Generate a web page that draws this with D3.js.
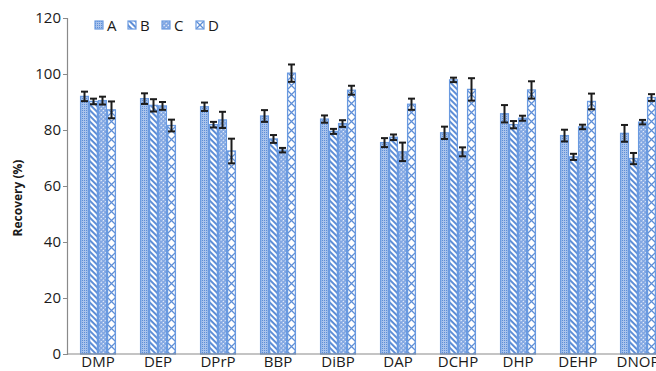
<!DOCTYPE html>
<html>
<head>
<meta charset="utf-8">
<script src="https://cdn.jsdelivr.net/npm/d3@7"></script>
<style>
  html, body { margin: 0; padding: 0; background: #fff; overflow: hidden; }
  svg { display: block; font-family: "Open Sans", sans-serif; }
</style>
</head>
<body>
<svg id="chart" width="656" height="371"></svg>
<script>
// data
const compounds = ["DMP", "DEP", "DPrP", "BBP", "DiBP", "DAP", "DCHP", "DHP", "DEHP", "DNOP"];
const seriesNames = ["A", "B", "C", "D"];
const meanA = [92.0, 91.2, 88.3, 85.0, 83.9, 75.5, 79.0, 85.8, 78.0, 78.8];
const sdA   = [1.7, 1.9, 1.5, 2.1, 1.3, 1.6, 2.2, 3.1, 2.1, 3.0];
const meanB = [90.2, 88.8, 81.9, 76.8, 79.5, 77.4, 97.9, 81.9, 70.4, 69.8];
const sdB   = [1.0, 2.2, 1.0, 1.4, 0.9, 1.0, 0.8, 1.3, 1.1, 2.0];
const meanC = [90.5, 88.6, 83.6, 72.8, 82.3, 72.2, 72.2, 84.2, 81.1, 82.8];
const sdC   = [1.4, 1.4, 2.9, 0.8, 1.2, 3.3, 1.6, 0.9, 0.8, 0.8];
const meanD = [87.2, 81.6, 72.5, 100.3, 94.2, 89.2, 94.5, 94.3, 90.2, 91.6];
const sdD   = [3.0, 2.1, 4.4, 3.1, 1.6, 2.0, 4.0, 3.1, 2.8, 1.2];
const yTicks = [0, 20, 40, 60, 80, 100, 120];

const means = [meanA, meanB, meanC, meanD];
const sds = [sdA, sdB, sdC, sdD];

const blue = "#5d8dd6";
const light = "#a9c3ec";
const edge = "#6a9ae0";

const svg = d3.select("#chart");

const x0 = d3.scaleBand().domain(compounds).range([68, 668]).paddingInner(0.4).paddingOuter(0.2);
const x1 = d3.scaleBand().domain(seriesNames).range([0, x0.bandwidth()]);
const y = d3.scaleLinear().domain([0, 120]).range([354, 18]);

// patterns
const defs = svg.append("defs");

// A: fine light grid
let p = defs.append("pattern").attr("id", "pA").attr("patternUnits", "userSpaceOnUse")
  .attr("width", 2).attr("height", 2);
p.append("rect").attr("width", 2).attr("height", 2).attr("fill", light);
p.append("rect").attr("width", 1).attr("height", 1).attr("fill", blue);

// B: diagonal stripes
p = defs.append("pattern").attr("id", "pB").attr("patternUnits", "userSpaceOnUse")
  .attr("width", 4).attr("height", 4).attr("patternTransform", "rotate(-45)");
p.append("rect").attr("width", 4).attr("height", 4).attr("fill", "#fff");
p.append("rect").attr("width", 2).attr("height", 4).attr("fill", blue);

// C: small diamonds
p = defs.append("pattern").attr("id", "pC").attr("patternUnits", "userSpaceOnUse")
  .attr("width", 3).attr("height", 3).attr("patternTransform", "rotate(45)");
p.append("rect").attr("width", 3).attr("height", 3).attr("fill", "#7fa5e2");
p.append("rect").attr("x", 1).attr("y", 1).attr("width", 1.3).attr("height", 1.3).attr("fill", "#fff");

// D: big crosses, one per bar width (pattern lives in each group's own space)
const bw = x1.bandwidth();
const dOff = x1("D");
p = defs.append("pattern").attr("id", "pD").attr("patternUnits", "userSpaceOnUse")
  .attr("x", 0).attr("y", 0).attr("width", x0.step()).attr("height", bw);
p.append("rect").attr("width", x0.step()).attr("height", bw).attr("fill", "#fff");
p.append("path")
  .attr("d", `M${dOff},0L${dOff + bw},${bw}M${dOff + bw},0L${dOff},${bw}`)
  .attr("stroke", blue).attr("stroke-width", 1.3).attr("fill", "none");

// legend version of D
let lp = defs.append("pattern").attr("id", "pDL").attr("patternUnits", "objectBoundingBox")
  .attr("width", 1).attr("height", 1);
lp.append("rect").attr("width", 8).attr("height", 8).attr("fill", "#fff");
lp.append("path").attr("d", "M0,0L8,8M8,0L0,8").attr("stroke", blue).attr("stroke-width", 1.3);

const fills = { A: "url(#pA)", B: "url(#pB)", C: "url(#pC)", D: "url(#pD)" };

// bars
const rows = compounds.map((c, i) => ({
  name: c,
  vals: seriesNames.map((s, j) => ({ key: s, v: means[j][i], e: sds[j][i] }))
}));

const groups = svg.append("g").selectAll("g")
  .data(rows)
  .join("g")
  .attr("transform", d => `translate(${x0(d.name)},0)`);

groups.selectAll("rect")
  .data(d => d.vals)
  .join("rect")
  .attr("x", d => x1(d.key) + 0.6)
  .attr("y", d => y(d.v))
  .attr("width", bw - 1.2)
  .attr("height", d => y(0) - y(d.v))
  .attr("fill", d => fills[d.key])
  .attr("stroke", edge)
  .attr("stroke-width", 1.3);

// error bars
const eb = groups.selectAll("g.err")
  .data(d => d.vals)
  .join("g")
  .attr("class", "err")
  .attr("stroke", "#1c1c1c")
  .attr("stroke-width", 2)
  .attr("transform", d => `translate(${x1(d.key) + bw / 2},0)`);
eb.append("line").attr("y1", d => y(d.v - d.e)).attr("y2", d => y(d.v + d.e));
eb.append("line").attr("x1", -3.5).attr("x2", 3.5).attr("y1", d => y(d.v + d.e)).attr("y2", d => y(d.v + d.e));
eb.append("line").attr("x1", -3.5).attr("x2", 3.5).attr("y1", d => y(d.v - d.e)).attr("y2", d => y(d.v - d.e));

// y axis
const yAxis = svg.append("g")
  .attr("transform", "translate(67,0)")
  .call(d3.axisLeft(y).tickValues(yTicks).tickSize(4).tickPadding(2));
yAxis.select(".domain").attr("stroke", "#8a8a8a").attr("stroke-width", 1.2);
yAxis.selectAll(".tick line").attr("stroke", "#8a8a8a");
yAxis.selectAll(".tick text")
  .attr("fill", "#1a1a1a")
  .style("font-size", "15px")
  .style("font-family", "'Open Sans', sans-serif");

// x axis line + category labels
svg.append("line")
  .attr("x1", 67).attr("x2", 656)
  .attr("y1", y(0)).attr("y2", y(0))
  .attr("stroke", "#8a8a8a").attr("stroke-width", 1.2);

svg.append("g").selectAll("text")
  .data(compounds)
  .join("text")
  .attr("x", d => x0(d) + x0.bandwidth() / 2)
  .attr("y", 367)
  .attr("text-anchor", "middle")
  .attr("fill", "#1a1a1a")
  .style("font-size", "15px")
  .text(d => d);

// y title
svg.append("text")
  .attr("transform", "translate(22,198) rotate(-90)")
  .attr("text-anchor", "middle")
  .attr("fill", "#1a1a1a")
  .style("font-size", "12px")
  .style("font-weight", "bold")
  .text("Recovery (%)");

// legend
const legFill = { A: "url(#pA)", B: "url(#pB)", C: "url(#pC)", D: "url(#pDL)" };
const legX = [95, 128, 162, 196];
const leg = svg.append("g").selectAll("g")
  .data(seriesNames)
  .join("g")
  .attr("transform", (d, i) => `translate(${legX[i]},21)`);
leg.append("rect")
  .attr("width", 8).attr("height", 8)
  .attr("fill", d => legFill[d])
  .attr("stroke", edge).attr("stroke-width", 1.2);
leg.append("text")
  .attr("x", 12).attr("y", 9.5)
  .attr("fill", "#1a1a1a")
  .style("font-size", "15px")
  .text(d => d);
</script>
</body>
</html>
